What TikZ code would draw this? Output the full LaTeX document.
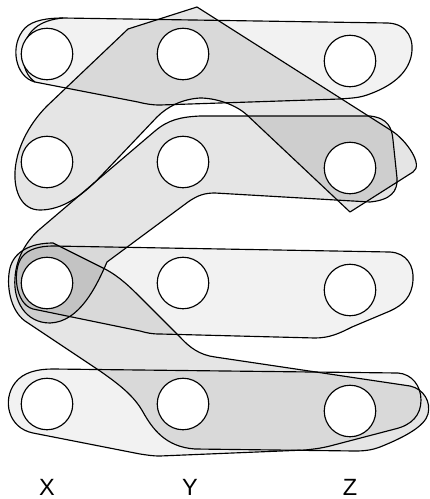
\documentclass[tikz,border=0pt]{standalone}
\usepackage{fontspec}
\setmainfont{Liberation Sans}
\usepackage{tikz}
\tikzset{
  vtx/.style={circle,draw,fill=white,line width=1.15pt,minimum size=51.5pt,inner sep=0pt},
  rowedge/.style={draw,line width=1.15pt,fill=black,fill opacity=0.05,line join=round},
  bendedge/.style={draw,line width=1.15pt,fill=black,fill opacity=0.1,line join=round},
  trace/.style={draw,line width=1.15pt},
  collbl/.style={font=\fontsize{23.5}{24}\selectfont,inner sep=0pt,anchor=base}}

\begin{document}
\begin{tikzpicture}[x=1pt,y=-1pt]
\useasboundingbox (0,0) rectangle (430,499);
% rows
\path[rowedge] (63,18) -- (388,23) .. controls (408,24) and (415,40) .. (411,57)
  .. controls (407,73) and (393,86) .. (367,95) .. controls (358,98) and (352,98) .. (340,99)
  -- (160,105) .. controls (152,105) and (146,104) .. (138,102) -- (35,82)
  .. controls (15,77) and (9,45) .. (25,28) .. controls (33,20) and (48,18) .. (63,18) -- cycle;
\draw[trace] (35,82) .. controls (20,72) and (18,42) .. (35,28) .. controls (42,22) and (52,19) .. (63,18);
\path[rowedge] (53,246) -- (390,252) .. controls (407,253) and (414,266) .. (413,280)
  .. controls (412,297) and (403,305) .. (390,311) -- (352,327) .. controls (340,333) and (330,338) .. (315,338)
  -- (160,334) .. controls (152,334) and (147,333) .. (140,331) -- (33,309)
  .. controls (15,304) and (12,270) .. (22,257) .. controls (28,249) and (40,246) .. (53,246) -- cycle;
\path[rowedge] (53,369) -- (398,373) .. controls (412,374) and (421,386) .. (421,400)
  .. controls (421,415) and (412,425) .. (395,429) -- (330,446) .. controls (322,448) and (315,449) .. (305,450)
  -- (160,456) .. controls (152,456) and (147,455) .. (140,454) -- (33,433)
  .. controls (8,428) and (2,400) .. (15,383) .. controls (23,372) and (38,369) .. (53,369) -- cycle;
% bent edges
\path[bendedge] (197,7) -- (392,131) .. controls (406,140) and (424,165) .. (413,172) -- (350,212) -- (247,115)
  .. controls (235,104) and (215,98) .. (200,98) .. controls (183,99) and (168,106) .. (157,117)
  -- (100,177) .. controls (82,196) and (62,210) .. (40,210) .. controls (22,210) and (14,192) .. (15,172)
  .. controls (16,150) and (28,125) .. (47,106) -- (128,29) -- cycle;
\path[bendedge] (40,229) -- (155,131) .. controls (168,120) and (180,117) .. (200,116) -- (370,116)
  .. controls (388,118) and (392,128) .. (393,140) -- (397,178) .. controls (398,192) and (390,200) .. (370,202)
  -- (215,193) .. controls (205,193) and (198,195) .. (188,202) -- (107,262)
  .. controls (97,285) and (80,322) .. (50,323) .. controls (25,323) and (13,300) .. (15,278)
  .. controls (16,258) and (27,240) .. (40,229) -- cycle;
\path[bendedge] (53,243) -- (105,269) .. controls (120,277) and (130,287) .. (143,300) -- (180,337)
  .. controls (190,348) and (200,355) .. (215,357) -- (410,386) .. controls (424,389) and (431,402) .. (428,414)
  .. controls (425,426) and (405,437) .. (380,447) .. controls (372,450) and (365,451) .. (355,451)
  -- (195,449) .. controls (165,447) and (152,428) .. (143,412) .. controls (134,396) and (120,385) .. (100,371)
  -- (25,321) .. controls (10,310) and (6,285) .. (10,268) .. controls (14,252) and (30,243) .. (53,243) -- cycle;
% vertices
\node[vtx] (x1) at (47,54) {};
\node[vtx] (y1) at (183,54) {};
\node[vtx] (z1) at (350,61) {};
\node[vtx] (x2) at (47,162) {};
\node[vtx] (y2) at (183,162) {};
\node[vtx] (z2) at (350,168) {};
\node[vtx] (x3) at (47,283) {};
\node[vtx] (y3) at (183,283) {};
\node[vtx] (z3) at (350,290) {};
\node[vtx] (x4) at (47,404) {};
\node[vtx] (y4) at (183,404) {};
\node[vtx] (z4) at (350,411) {};
% column labels
\node[collbl] (labx) at (47,495) {X};
\node[collbl] (laby) at (190,495) {Y};
\node[collbl] (labz) at (350,495) {Z};
\end{tikzpicture}
\end{document}
